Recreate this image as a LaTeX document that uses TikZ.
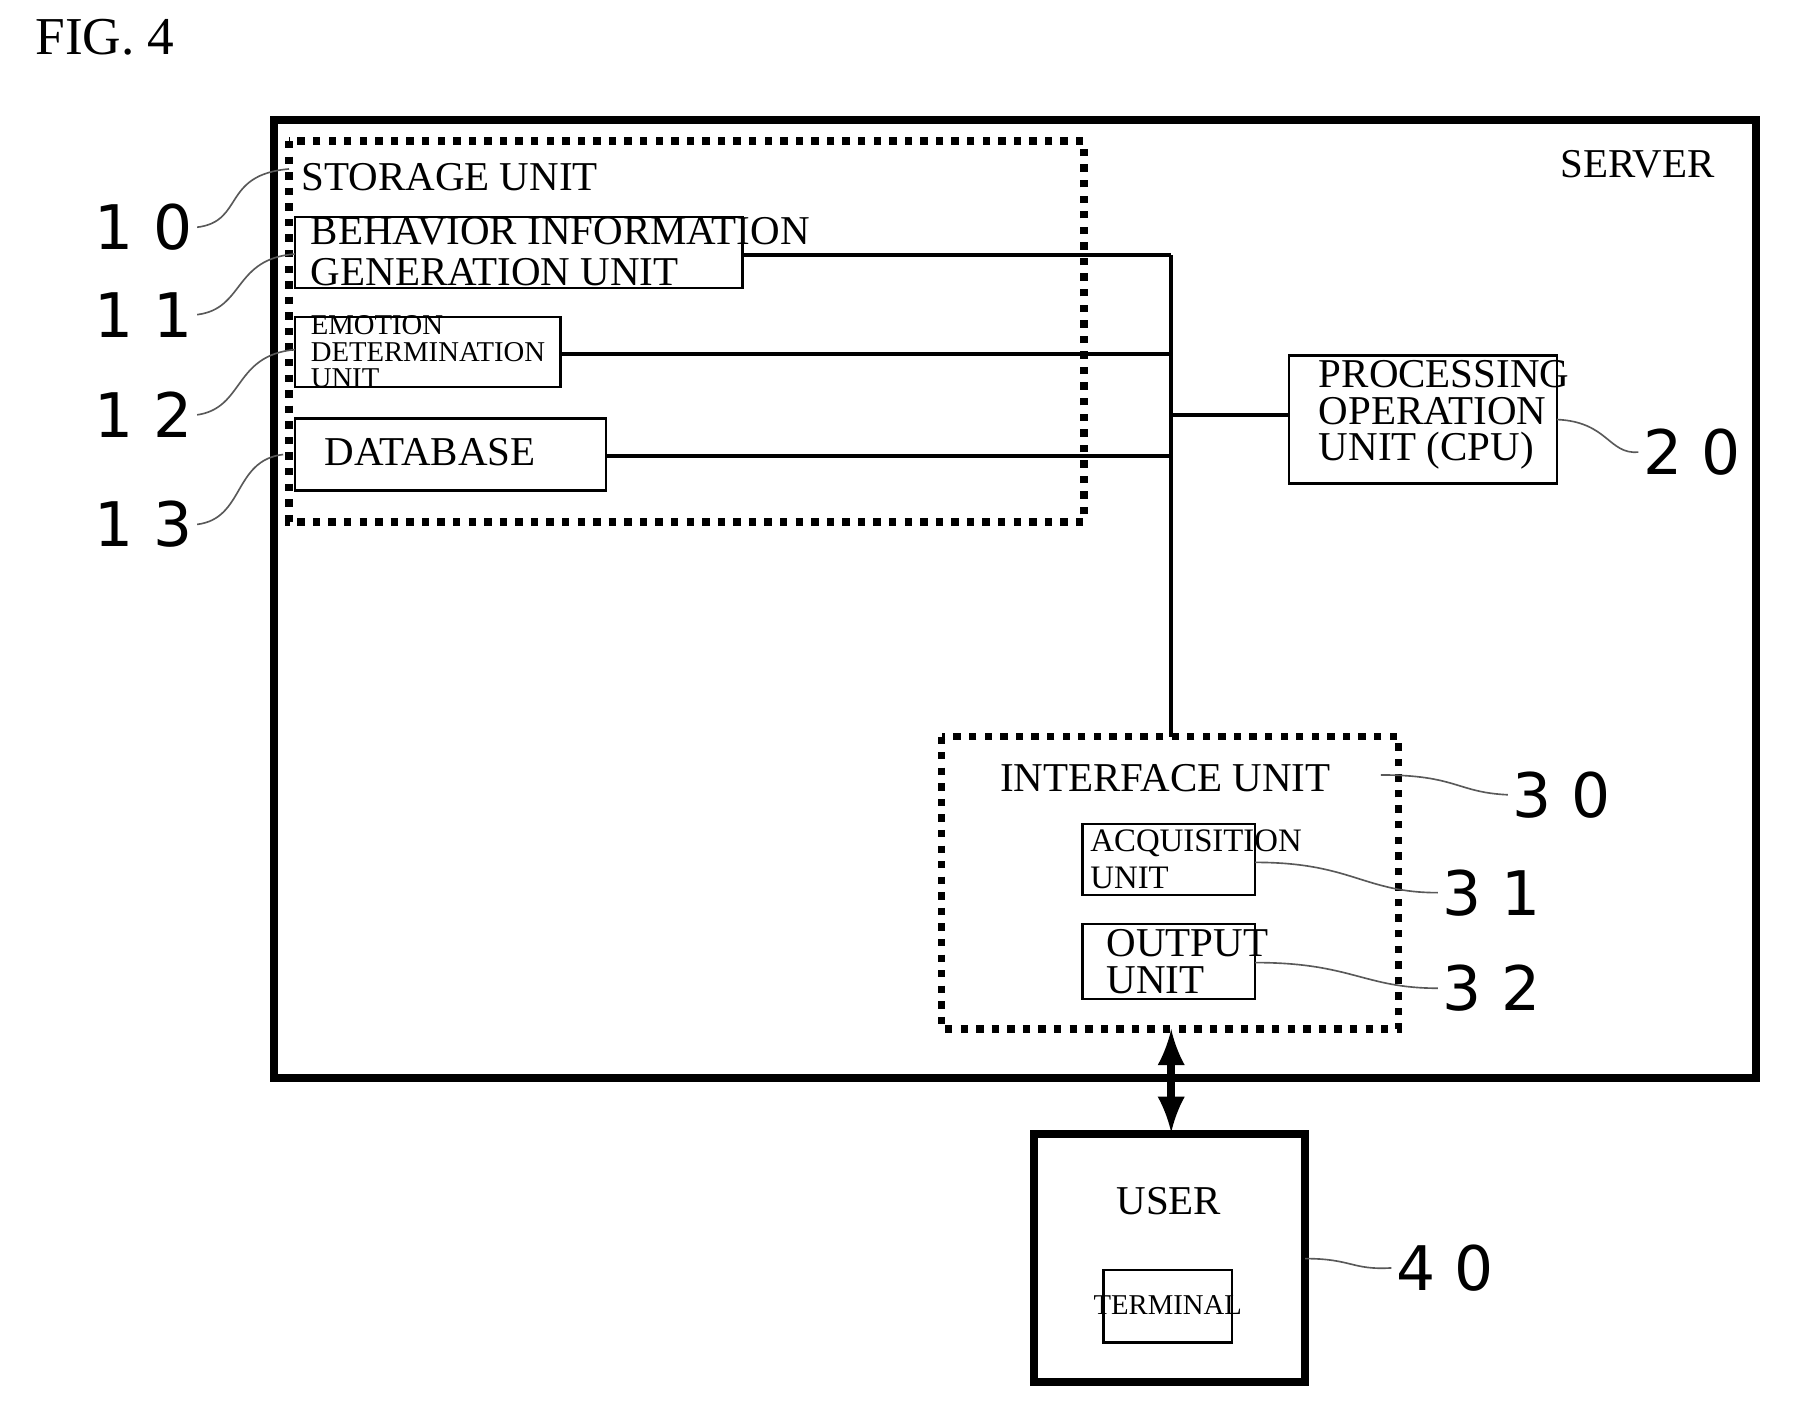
\documentclass[tikz,border=0pt]{standalone}
\usepackage{fontspec}
\setmainfont{Liberation Serif}
\newfontfamily\numfont{DejaVu Sans}
\begin{document}
\begin{tikzpicture}[x=0.01cm, y=-0.01cm,
    box/.style={draw, line width=0.6pt, inner sep=0pt},
    dotbox/.style={draw, line width=1.8pt, dotted},
    txt/.style={font=\fontsize{10}{9}\selectfont, align=left, inner sep=0pt},
    refnum/.style={font=\numfont\fontsize{15}{15}\selectfont, inner sep=1pt},
    leader/.style={line width=0.4pt, gray!70!black}]
  \useasboundingbox (0,0) rectangle (1560,1216);
  \node[anchor=west, font=\fontsize{13}{13}\selectfont] (fig) at (18,32) {FIG. 4};
  % server
  \draw[line width=2pt] (235,103) rectangle (1507,925);
  \node[txt, anchor=east] (server) at (1472,141) {SERVER};
  % storage unit
  \draw[dotbox] (248,121) rectangle (930,448);
  \node[txt, anchor=west] (storage) at (258,152) {STORAGE UNIT};
  \draw[box] (253,186) rectangle (637,247);
  \node[txt, anchor=west, font=\fontsize{10}{10}\selectfont] (behav) at (266,216) {BEHAVIOR INFORMATION\\GENERATION UNIT};
  \draw[box] (253,272) rectangle (481,332);
  \node[txt, anchor=west, font=\fontsize{7}{6.5}\selectfont] (emo) at (266,302) {EMOTION\\DETERMINATION\\UNIT};
  \draw[box] (253,359) rectangle (520,421);
  \node[txt, anchor=west] (db) at (278,388) {DATABASE};
  % bus
  \coordinate (b1) at (637,219);
  \coordinate (b2) at (481,304);
  \coordinate (b3) at (520,391);
  \coordinate (bt) at (1005,219);
  \coordinate (bb) at (1005,632);
  \coordinate (bc) at (1005,356);
  \draw[line width=1pt] (bt) -- (bb);
  \draw[line width=1pt] (b1) -- (bt);
  \draw[line width=1pt] (b2) -- (1005,304);
  \draw[line width=1pt] (b3) -- (1005,391);
  % cpu
  \draw[box] (1106,305) rectangle (1336,415);
  \node[txt, anchor=west] (cpu) at (1131,356) {PROCESSING\\OPERATION\\UNIT (CPU)};
  \draw[line width=1pt] (bc) -- (1106,356);
  % interface unit
  \draw[dotbox] (808,632) rectangle (1200,883);
  \node[txt] (iface) at (1000,668) {INTERFACE UNIT};
  \draw[box] (929,707) rectangle (1077,768);
  \node[txt, anchor=west, font=\fontsize{8}{9}\selectfont] (acq) at (935,737) {ACQUISITION\\UNIT};
  \draw[box] (929,793) rectangle (1077,857);
  \node[txt, anchor=west] (out) at (949,825) {OUTPUT\\UNIT};
  % user
  \draw[line width=2pt] (887,973) rectangle (1120,1186);
  \node[txt] (user) at (1003,1031) {USER};
  \draw[box] (947,1090) rectangle (1057,1152);
  \node[txt, font=\fontsize{7}{7}\selectfont] (term) at (1002,1120) {TERMINAL};
  \coordinate (ib) at (1005,883);
  \coordinate (ut) at (1005,972);
  \draw[line width=2pt, <->, >=latex] (ib) -- (ut);
  % reference numerals
  \node[refnum] (n10) at (123,195) {1 0};
  \node[refnum] (n11) at (123,270) {1 1};
  \node[refnum] (n12) at (123,356) {1 2};
  \node[refnum] (n13) at (123,450) {1 3};
  \node[refnum] (n20) at (1452,388) {2 0};
  \node[refnum] (n30) at (1340,682) {3 0};
  \node[refnum] (n31) at (1280,766) {3 1};
  \node[refnum] (n32) at (1280,848) {3 2};
  \node[refnum] (n40) at (1240,1088) {4 0};
  \draw[leader] (n10.east) .. controls (210,190) and (190,150) .. (248,145);
  \draw[leader] (n11.east) .. controls (210,265) and (200,222) .. (253,218);
  \draw[leader] (n12.east) .. controls (210,350) and (200,305) .. (253,300);
  \draw[leader] (n13.east) .. controls (210,445) and (200,395) .. (243,390);
  \draw[leader] (n20.west) .. controls (1380,390) and (1380,362) .. (1336,360);
  \draw[leader] (n30.west) .. controls (1250,680) and (1250,665) .. (1185,665);
  \draw[leader] (n31.west) .. controls (1170,766) and (1160,740) .. (1077,740);
  \draw[leader] (n32.west) .. controls (1170,848) and (1160,826) .. (1077,826);
  \draw[leader] (n40.west) .. controls (1160,1090) and (1160,1080) .. (1120,1080);
\end{tikzpicture}
\end{document}
